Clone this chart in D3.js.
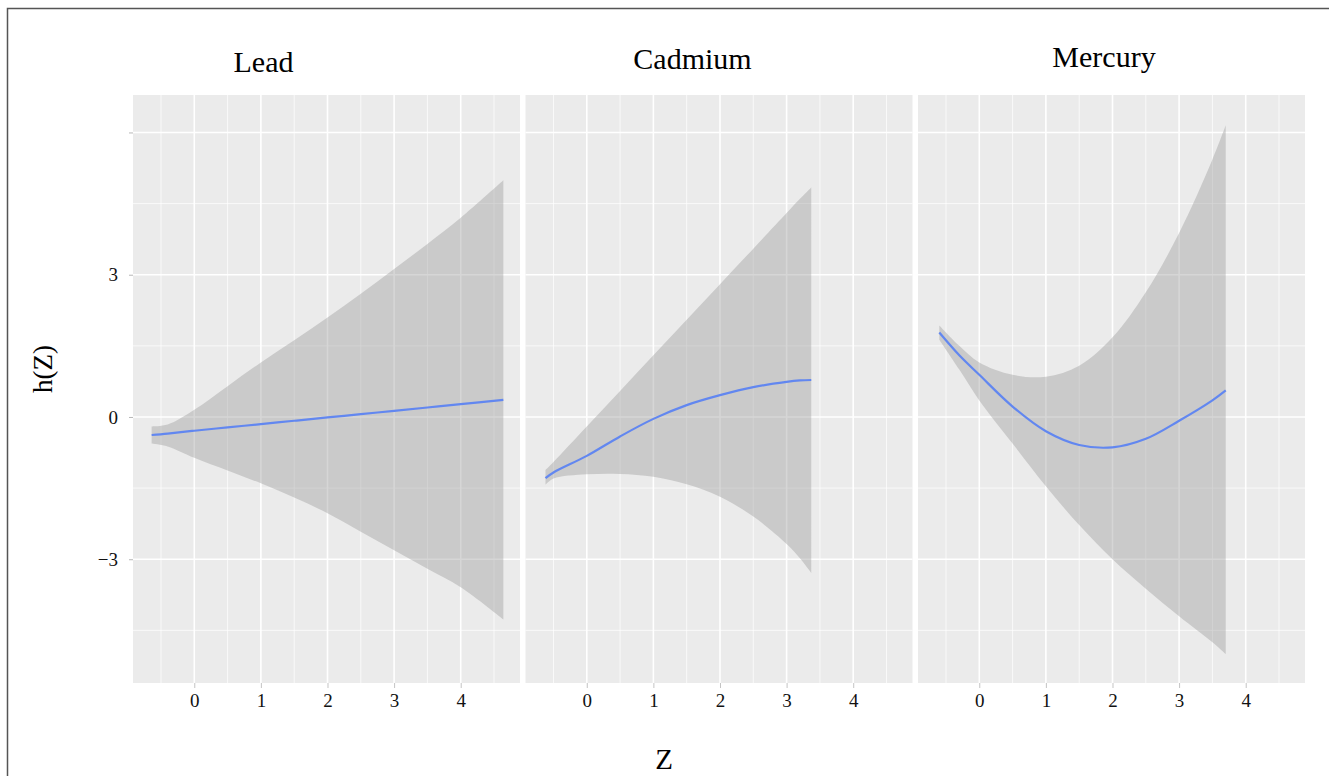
<!DOCTYPE html>
<html><head><meta charset="utf-8">
<script src="https://cdn.jsdelivr.net/npm/d3@7"></script>
<style>body{margin:0;background:#fff;} svg{display:block;}</style>
</head><body>
<svg id="chart" width="1329" height="776"></svg>
<script>
// ---- data ----
const facets = ["Lead", "Cadmium", "Mercury"];

const leadZ     = [-0.64, -0.4, 0, 0.5, 1, 1.5, 2, 2.5, 3, 3.5, 4, 4.64];
const leadFit   = [-0.38, -0.35, -0.29, -0.22, -0.15, -0.08, -0.01, 0.06, 0.13, 0.20, 0.27, 0.36];
const leadUpper = [-0.20, -0.16, 0.15, 0.65, 1.15, 1.62, 2.10, 2.60, 3.12, 3.65, 4.20, 4.99];
const leadLower = [-0.56, -0.62, -0.86, -1.13, -1.40, -1.70, -2.03, -2.42, -2.81, -3.20, -3.59, -4.27];

const cadZ     = [-0.62, -0.5, 0, 0.5, 1, 1.5, 2, 2.5, 3, 3.2, 3.37];
const cadFit   = [-1.29, -1.17, -0.82, -0.41, -0.04, 0.25, 0.46, 0.63, 0.74, 0.77, 0.78];
const cadUpper = [-1.12, -0.95, -0.20, 0.55, 1.30, 2.05, 2.80, 3.55, 4.30, 4.60, 4.84];
const cadLower = [-1.43, -1.30, -1.21, -1.20, -1.26, -1.42, -1.68, -2.10, -2.68, -2.98, -3.29];

const hgZ     = [-0.6, -0.3, 0, 0.5, 1, 1.5, 2, 2.5, 3, 3.5, 3.7];
const hgFit   = [1.78, 1.30, 0.89, 0.22, -0.30, -0.59, -0.64, -0.46, -0.08, 0.35, 0.56];
const hgUpper = [1.93, 1.50, 1.15, 0.89, 0.85, 1.08, 1.68, 2.63, 3.88, 5.43, 6.15];
const hgLower = [1.63, 1.00, 0.35, -0.56, -1.46, -2.28, -3.00, -3.62, -4.20, -4.75, -5.00];

const xTicks = [0, 1, 2, 3, 4];
const xTickLabels = ["0", "1", "2", "3", "4"];
const yTicks = [-3, 0, 3, 6];
const yTickLabels = ["\u22123", "0", "3", ""];
const xTitle = "Z";
const yTitle = "h(Z)";

const series = [
  {z: leadZ, fit: leadFit, upper: leadUpper, lower: leadLower},
  {z: cadZ,  fit: cadFit,  upper: cadUpper,  lower: cadLower},
  {z: hgZ,   fit: hgFit,   upper: hgUpper,   lower: hgLower}
];

// ---- layout ----
const W = 1329, H = 776;
const panelLefts = [133, 525.5, 918];
const panelW = 387, pTop = 95, pBottom = 683;
const titleX = [263.5, 692.5, 1104];
const titleY = [72, 69, 67];
const serif = "'Liberation Serif', 'Times New Roman', serif";

const svg = d3.select("#chart");
svg.append("rect").attr("x", 7.5).attr("y", 8.5).attr("width", W + 20).attr("height", H)
  .attr("fill", "#fff").attr("stroke", "#555").attr("stroke-width", 1.5);

const x = d3.scaleLinear().domain([-0.92, 4.89]).range([0, panelW]);
const y = d3.scaleLinear().domain([-5.61, 6.79]).range([pBottom - pTop, 0]);

const xMinor = d3.range(-0.5, 5, 1);
const yMinor = [-4.5, -1.5, 1.5, 4.5];
const curve = d3.curveCatmullRom.alpha(0.5);

facets.forEach((name, i) => {
  const g = svg.append("g").attr("transform", `translate(${panelLefts[i]},${pTop})`);
  g.append("rect").attr("width", panelW).attr("height", pBottom - pTop).attr("fill", "#EBEBEB");

  // minor grid
  g.selectAll(".vmin").data(xMinor).join("line")
    .attr("x1", d => x(d)).attr("x2", d => x(d)).attr("y1", 0).attr("y2", pBottom - pTop)
    .attr("stroke", "#fff").attr("stroke-width", 0.9).attr("stroke-opacity", 0.8);
  g.selectAll(".hmin").data(yMinor).join("line")
    .attr("y1", d => y(d)).attr("y2", d => y(d)).attr("x1", 0).attr("x2", panelW)
    .attr("stroke", "#fff").attr("stroke-width", 0.9).attr("stroke-opacity", 0.8);
  // major grid
  g.selectAll(".vmaj").data(xTicks).join("line")
    .attr("x1", d => x(d)).attr("x2", d => x(d)).attr("y1", 0).attr("y2", pBottom - pTop)
    .attr("stroke", "#fff").attr("stroke-width", 1.6);
  g.selectAll(".hmaj").data(yTicks).join("line")
    .attr("y1", d => y(d)).attr("y2", d => y(d)).attr("x1", 0).attr("x2", panelW)
    .attr("stroke", "#fff").attr("stroke-width", 1.6);

  const s = series[i];
  const pts = s.z.map((z, k) => ({z, fit: s.fit[k], up: s.upper[k], lo: s.lower[k]}));

  g.append("path").datum(pts)
    .attr("d", d3.area().x(d => x(d.z)).y0(d => y(d.lo)).y1(d => y(d.up)).curve(curve))
    .attr("fill", "#999999").attr("fill-opacity", 0.4);
  g.append("path").datum(pts)
    .attr("d", d3.line().x(d => x(d.z)).y(d => y(d.fit)).curve(curve))
    .attr("fill", "none").attr("stroke", "#6287f0").attr("stroke-width", 2.2);

  // x axis
  const xa = g.append("g").attr("transform", `translate(0,${pBottom - pTop})`)
    .call(d3.axisBottom(x).tickValues(xTicks).tickFormat((d, k) => xTickLabels[k]).tickSize(5).tickPadding(5.5));
  xa.select(".domain").remove();
  xa.selectAll(".tick line").attr("stroke", "#c4c4c4");
  xa.selectAll(".tick text").attr("font-family", serif).attr("font-size", 19).attr("fill", "#111");

  if (i === 0) {
    const ya = g.append("g")
      .call(d3.axisLeft(y).tickValues(yTicks).tickFormat((d, k) => yTickLabels[k]).tickSize(4).tickPadding(11));
    ya.select(".domain").remove();
    ya.selectAll(".tick line").attr("stroke", "#b8b8b8");
    ya.selectAll(".tick text").attr("font-family", serif).attr("font-size", 19).attr("fill", "#111");
  }

  svg.append("text").attr("x", titleX[i]).attr("y", titleY[i]).attr("text-anchor", "middle")
    .attr("font-family", serif).attr("font-size", 30).attr("fill", "#000").text(name);
});

svg.append("text").attr("transform", "translate(52,369) rotate(-90)").attr("text-anchor", "middle")
  .attr("font-family", serif).attr("font-size", 27).attr("fill", "#000").text(yTitle);
svg.append("text").attr("x", 664).attr("y", 769).attr("text-anchor", "middle")
  .attr("font-family", serif).attr("font-size", 29).attr("fill", "#000").text(xTitle);
</script>
</body></html>
